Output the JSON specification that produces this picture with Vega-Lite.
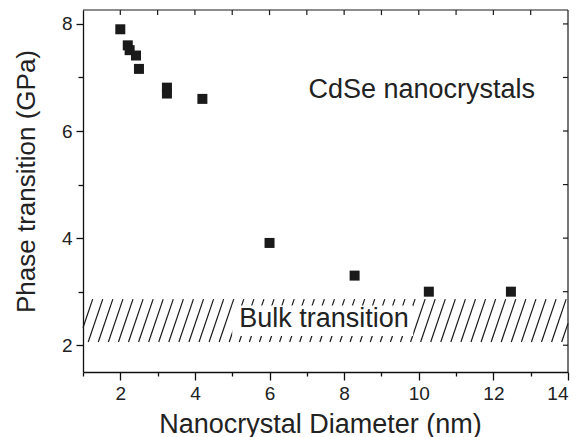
{
  "$schema": "https://vega.github.io/schema/vega-lite/v6.json",
  "width": 485,
  "height": 362,
  "autosize": {"type": "none"},
  "padding": {"left": 83, "top": 10, "right": 12, "bottom": 65},
  "background": "white",
  "config": {
    "view": {"stroke": null},
    "font": "Liberation Sans",
    "axis": {
      "grid": false,
      "domainColor": "#111",
      "domainWidth": 1.3,
      "tickColor": "#111",
      "tickWidth": 1.3,
      "labelFont": "Liberation Sans",
      "labelFontSize": 19,
      "labelColor": "#222",
      "titleFont": "Liberation Sans",
      "titleFontSize": 26,
      "titleFontWeight": "normal",
      "titleColor": "#222"
    }
  },
  "datasets": {
    "points": [
      {"diameter": 2.0, "pressure": 7.9},
      {"diameter": 2.2, "pressure": 7.6},
      {"diameter": 2.25, "pressure": 7.51},
      {"diameter": 2.42, "pressure": 7.41},
      {"diameter": 2.5, "pressure": 7.16},
      {"diameter": 3.25, "pressure": 6.81},
      {"diameter": 3.25, "pressure": 6.7},
      {"diameter": 4.2, "pressure": 6.6},
      {"diameter": 6.0, "pressure": 3.91},
      {"diameter": 8.28, "pressure": 3.3},
      {"diameter": 10.27, "pressure": 3.0},
      {"diameter": 12.47, "pressure": 3.0}
    ],
    "lines": [
      {"x": 1, "x2": 14, "y": 8.26, "y2": 8.26},
      {"x": 14, "x2": 14, "y": 1.5, "y2": 8.26},
      {"x": 2, "x2": 2, "y": 8.26, "y2": 8.165},
      {"x": 3, "x2": 3, "y": 8.26, "y2": 8.165},
      {"x": 4, "x2": 4, "y": 8.26, "y2": 8.165},
      {"x": 5, "x2": 5, "y": 8.26, "y2": 8.165},
      {"x": 6, "x2": 6, "y": 8.26, "y2": 8.165},
      {"x": 7, "x2": 7, "y": 8.26, "y2": 8.165},
      {"x": 8, "x2": 8, "y": 8.26, "y2": 8.165},
      {"x": 9, "x2": 9, "y": 8.26, "y2": 8.165},
      {"x": 10, "x2": 10, "y": 8.26, "y2": 8.165},
      {"x": 11, "x2": 11, "y": 8.26, "y2": 8.165},
      {"x": 12, "x2": 12, "y": 8.26, "y2": 8.165},
      {"x": 13, "x2": 13, "y": 8.26, "y2": 8.165},
      {"x": 14, "x2": 13.865, "y": 2, "y2": 2},
      {"x": 14, "x2": 13.865, "y": 3, "y2": 3},
      {"x": 14, "x2": 13.865, "y": 4, "y2": 4},
      {"x": 14, "x2": 13.865, "y": 5, "y2": 5},
      {"x": 14, "x2": 13.865, "y": 6, "y2": 6},
      {"x": 14, "x2": 13.865, "y": 7, "y2": 7},
      {"x": 14, "x2": 13.865, "y": 8, "y2": 8},
      {"x": 1, "x2": 1.26, "y": 2.327, "y2": 2.86},
      {"x": 1.14, "x2": 1.53, "y": 2.06, "y2": 2.86},
      {"x": 1.41, "x2": 1.8, "y": 2.06, "y2": 2.86},
      {"x": 1.68, "x2": 2.07, "y": 2.06, "y2": 2.86},
      {"x": 1.95, "x2": 2.34, "y": 2.06, "y2": 2.86},
      {"x": 2.22, "x2": 2.61, "y": 2.06, "y2": 2.86},
      {"x": 2.49, "x2": 2.88, "y": 2.06, "y2": 2.86},
      {"x": 2.76, "x2": 3.15, "y": 2.06, "y2": 2.86},
      {"x": 3.03, "x2": 3.42, "y": 2.06, "y2": 2.86},
      {"x": 3.3, "x2": 3.69, "y": 2.06, "y2": 2.86},
      {"x": 3.57, "x2": 3.96, "y": 2.06, "y2": 2.86},
      {"x": 3.84, "x2": 4.23, "y": 2.06, "y2": 2.86},
      {"x": 4.11, "x2": 4.5, "y": 2.06, "y2": 2.86},
      {"x": 4.38, "x2": 4.77, "y": 2.06, "y2": 2.86},
      {"x": 4.65, "x2": 5.04, "y": 2.06, "y2": 2.86},
      {"x": 4.92, "x2": 5.31, "y": 2.06, "y2": 2.86},
      {"x": 5.19, "x2": 5.58, "y": 2.06, "y2": 2.86},
      {"x": 5.46, "x2": 5.85, "y": 2.06, "y2": 2.86},
      {"x": 5.73, "x2": 6.12, "y": 2.06, "y2": 2.86},
      {"x": 6.0, "x2": 6.39, "y": 2.06, "y2": 2.86},
      {"x": 6.27, "x2": 6.66, "y": 2.06, "y2": 2.86},
      {"x": 6.54, "x2": 6.93, "y": 2.06, "y2": 2.86},
      {"x": 6.81, "x2": 7.2, "y": 2.06, "y2": 2.86},
      {"x": 7.08, "x2": 7.47, "y": 2.06, "y2": 2.86},
      {"x": 7.35, "x2": 7.74, "y": 2.06, "y2": 2.86},
      {"x": 7.62, "x2": 8.01, "y": 2.06, "y2": 2.86},
      {"x": 7.89, "x2": 8.28, "y": 2.06, "y2": 2.86},
      {"x": 8.16, "x2": 8.55, "y": 2.06, "y2": 2.86},
      {"x": 8.43, "x2": 8.82, "y": 2.06, "y2": 2.86},
      {"x": 8.7, "x2": 9.09, "y": 2.06, "y2": 2.86},
      {"x": 8.97, "x2": 9.36, "y": 2.06, "y2": 2.86},
      {"x": 9.24, "x2": 9.63, "y": 2.06, "y2": 2.86},
      {"x": 9.51, "x2": 9.9, "y": 2.06, "y2": 2.86},
      {"x": 9.78, "x2": 10.17, "y": 2.06, "y2": 2.86},
      {"x": 10.05, "x2": 10.44, "y": 2.06, "y2": 2.86},
      {"x": 10.32, "x2": 10.71, "y": 2.06, "y2": 2.86},
      {"x": 10.59, "x2": 10.98, "y": 2.06, "y2": 2.86},
      {"x": 10.86, "x2": 11.25, "y": 2.06, "y2": 2.86},
      {"x": 11.13, "x2": 11.52, "y": 2.06, "y2": 2.86},
      {"x": 11.4, "x2": 11.79, "y": 2.06, "y2": 2.86},
      {"x": 11.67, "x2": 12.06, "y": 2.06, "y2": 2.86},
      {"x": 11.94, "x2": 12.33, "y": 2.06, "y2": 2.86},
      {"x": 12.21, "x2": 12.6, "y": 2.06, "y2": 2.86},
      {"x": 12.48, "x2": 12.87, "y": 2.06, "y2": 2.86},
      {"x": 12.75, "x2": 13.14, "y": 2.06, "y2": 2.86},
      {"x": 13.02, "x2": 13.41, "y": 2.06, "y2": 2.86},
      {"x": 13.29, "x2": 13.68, "y": 2.06, "y2": 2.86},
      {"x": 13.56, "x2": 13.95, "y": 2.06, "y2": 2.86},
      {"x": 13.83, "x2": 14, "y": 2.06, "y2": 2.409}
    ]
  },
  "layer": [
    {
      "data": {"name": "lines"},
      "mark": {"type": "rule", "stroke": "#1a1a1a", "strokeWidth": 1.2},
      "encoding": {
        "x": {"field": "x", "type": "quantitative", "scale": {"domain": [1, 14], "nice": false, "zero": false},
          "axis": {"orient": "bottom", "title": "Nanocrystal Diameter (nm)", "titleFontSize": 27, "titleX": 237, "values": [1, 2, 3, 4, 5, 6, 7, 8, 9, 10, 11, 12, 13, 14], "labelExpr": "datum.value % 2 === 0 ? datum.label : ''", "tickSize": {"condition": {"test": "datum.value % 2 === 0", "value": 8}, "value": 4}, "labelPadding": 4, "titlePadding": 8}},
        "x2": {"field": "x2"},
        "y": {"field": "y", "type": "quantitative", "scale": {"domain": [1.5, 8.26], "nice": false, "zero": false},
          "axis": {"orient": "left", "title": "Phase transition (GPa)", "titleY": 171, "values": [2, 3, 4, 5, 6, 7, 8], "labelExpr": "datum.value % 2 === 0 ? datum.label : ''", "tickSize": {"condition": {"test": "datum.value % 2 === 0", "value": 7}, "value": 5}, "labelPadding": 4, "titlePadding": 22}},
        "y2": {"field": "y2"}
      }
    },
    {
      "data": {"values": [{}]},
      "mark": {"type": "rect", "fill": "white"},
      "encoding": {
        "x": {"datum": 5.0, "type": "quantitative", "scale": {"domain": [1, 14], "nice": false, "zero": false},
          "axis": {"orient": "bottom", "title": "Nanocrystal Diameter (nm)", "titleFontSize": 27, "titleX": 237, "values": [1, 2, 3, 4, 5, 6, 7, 8, 9, 10, 11, 12, 13, 14], "labelExpr": "datum.value % 2 === 0 ? datum.label : ''", "tickSize": {"condition": {"test": "datum.value % 2 === 0", "value": 8}, "value": 4}, "labelPadding": 4, "titlePadding": 8}},
        "x2": {"datum": 9.85},
        "y": {"datum": 2.17, "type": "quantitative", "scale": {"domain": [1.5, 8.26], "nice": false, "zero": false},
          "axis": {"orient": "left", "title": "Phase transition (GPa)", "titleY": 171, "values": [2, 3, 4, 5, 6, 7, 8], "labelExpr": "datum.value % 2 === 0 ? datum.label : ''", "tickSize": {"condition": {"test": "datum.value % 2 === 0", "value": 7}, "value": 5}, "labelPadding": 4, "titlePadding": 22}},
        "y2": {"datum": 2.74}
      }
    },
    {
      "data": {"values": [{"label": "Bulk transition"}]},
      "mark": {"type": "text", "font": "Liberation Sans", "fontSize": 27, "color": "#222", "align": "center", "baseline": "alphabetic"},
      "encoding": {
        "x": {"datum": 7.46, "type": "quantitative", "scale": {"domain": [1, 14], "nice": false, "zero": false},
          "axis": {"orient": "bottom", "title": "Nanocrystal Diameter (nm)", "titleFontSize": 27, "titleX": 237, "values": [1, 2, 3, 4, 5, 6, 7, 8, 9, 10, 11, 12, 13, 14], "labelExpr": "datum.value % 2 === 0 ? datum.label : ''", "tickSize": {"condition": {"test": "datum.value % 2 === 0", "value": 8}, "value": 4}, "labelPadding": 4, "titlePadding": 8}},
        "y": {"datum": 2.34, "type": "quantitative", "scale": {"domain": [1.5, 8.26], "nice": false, "zero": false},
          "axis": {"orient": "left", "title": "Phase transition (GPa)", "titleY": 171, "values": [2, 3, 4, 5, 6, 7, 8], "labelExpr": "datum.value % 2 === 0 ? datum.label : ''", "tickSize": {"condition": {"test": "datum.value % 2 === 0", "value": 7}, "value": 5}, "labelPadding": 4, "titlePadding": 22}},
        "text": {"field": "label"}
      }
    },
    {
      "data": {"values": [{"label": "CdSe nanocrystals"}]},
      "mark": {"type": "text", "font": "Liberation Sans", "fontSize": 27, "color": "#222", "align": "center", "baseline": "alphabetic"},
      "encoding": {
        "x": {"datum": 10.08, "type": "quantitative", "scale": {"domain": [1, 14], "nice": false, "zero": false},
          "axis": {"orient": "bottom", "title": "Nanocrystal Diameter (nm)", "titleFontSize": 27, "titleX": 237, "values": [1, 2, 3, 4, 5, 6, 7, 8, 9, 10, 11, 12, 13, 14], "labelExpr": "datum.value % 2 === 0 ? datum.label : ''", "tickSize": {"condition": {"test": "datum.value % 2 === 0", "value": 8}, "value": 4}, "labelPadding": 4, "titlePadding": 8}},
        "y": {"datum": 6.62, "type": "quantitative", "scale": {"domain": [1.5, 8.26], "nice": false, "zero": false},
          "axis": {"orient": "left", "title": "Phase transition (GPa)", "titleY": 171, "values": [2, 3, 4, 5, 6, 7, 8], "labelExpr": "datum.value % 2 === 0 ? datum.label : ''", "tickSize": {"condition": {"test": "datum.value % 2 === 0", "value": 7}, "value": 5}, "labelPadding": 4, "titlePadding": 22}},
        "text": {"field": "label"}
      }
    },
    {
      "data": {"name": "points"},
      "mark": {"type": "square", "size": 100, "filled": true, "color": "#1a1a1a", "opacity": 1},
      "encoding": {
        "x": {"field": "diameter", "type": "quantitative", "scale": {"domain": [1, 14], "nice": false, "zero": false},
          "axis": {"orient": "bottom", "title": "Nanocrystal Diameter (nm)", "titleFontSize": 27, "titleX": 237, "values": [1, 2, 3, 4, 5, 6, 7, 8, 9, 10, 11, 12, 13, 14], "labelExpr": "datum.value % 2 === 0 ? datum.label : ''", "tickSize": {"condition": {"test": "datum.value % 2 === 0", "value": 8}, "value": 4}, "labelPadding": 4, "titlePadding": 8}},
        "y": {"field": "pressure", "type": "quantitative", "scale": {"domain": [1.5, 8.26], "nice": false, "zero": false},
          "axis": {"orient": "left", "title": "Phase transition (GPa)", "titleY": 171, "values": [2, 3, 4, 5, 6, 7, 8], "labelExpr": "datum.value % 2 === 0 ? datum.label : ''", "tickSize": {"condition": {"test": "datum.value % 2 === 0", "value": 7}, "value": 5}, "labelPadding": 4, "titlePadding": 22}}
      }
    }
  ]
}
